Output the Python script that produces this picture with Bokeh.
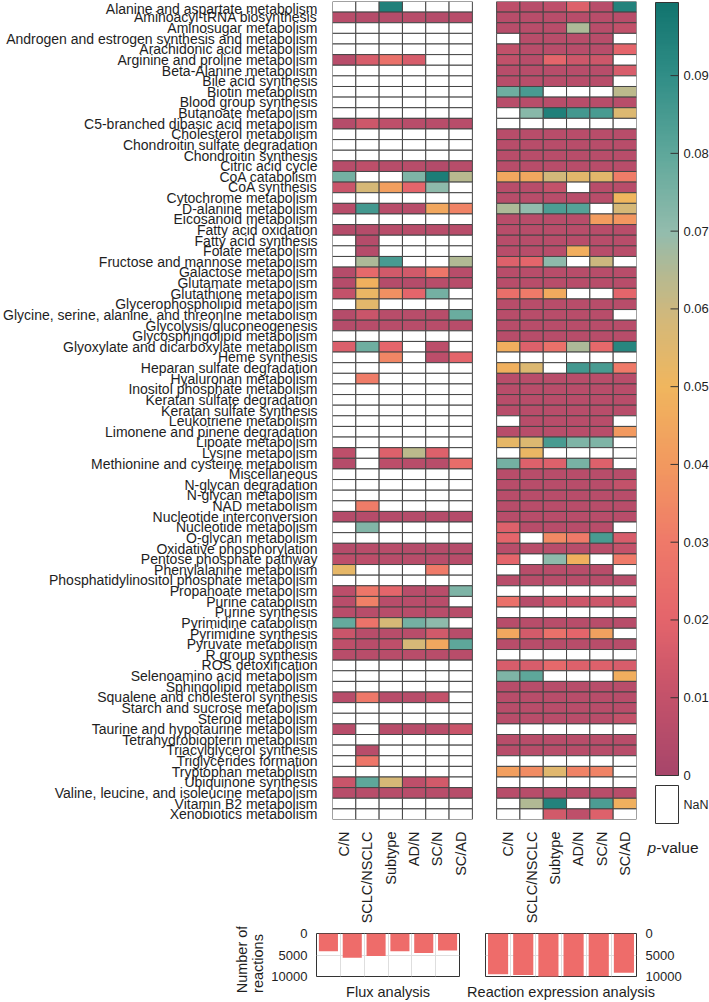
import math
import numpy as np
from bokeh.plotting import figure
from bokeh.models import (FactorRange, Range1d, FixedTicker, LinearColorMapper,
                          ColumnDataSource)
from bokeh.core.properties import value
from bokeh.layouts import row, column
from bokeh.embed import file_html
from bokeh.resources import INLINE

NA = float("nan")
FONT = "Liberation Sans"
TXT = "#1e1e1e"

pathways = [
    "Alanine and aspartate metabolism", "Aminoacyl-tRNA biosynthesis", "Aminosugar metabolism",
    "Androgen and estrogen synthesis and metabolism", "Arachidonic acid metabolism",
    "Arginine and proline metabolism", "Beta-Alanine metabolism", "Bile acid synthesis",
    "Biotin metabolism", "Blood group synthesis", "Butanoate metabolism",
    "C5-branched dibasic acid metabolism", "Cholesterol metabolism",
    "Chondroitin sulfate degradation", "Chondroitin synthesis", "Citric acid cycle",
    "CoA catabolism", "CoA synthesis", "Cytochrome metabolism", "D-alanine metabolism",
    "Eicosanoid metabolism", "Fatty acid oxidation", "Fatty acid synthesis",
    "Folate metabolism", "Fructose and mannose metabolism", "Galactose metabolism",
    "Glutamate metabolism", "Glutathione metabolism", "Glycerophospholipid metabolism",
    "Glycine, serine, alanine, and threonine metabolism", "Glycolysis/gluconeogenesis",
    "Glycosphingolipid metabolism", "Glyoxylate and dicarboxylate metabolism",
    "Heme synthesis", "Heparan sulfate degradation", "Hyaluronan metabolism",
    "Inositol phosphate metabolism", "Keratan sulfate degradation",
    "Keratan sulfate synthesis", "Leukotriene metabolism", "Limonene and pinene degradation",
    "Lipoate metabolism", "Lysine metabolism", "Methionine and cysteine metabolism",
    "Miscellaneous", "N-glycan degradation", "N-glycan metabolism", "NAD metabolism",
    "Nucleotide interconversion", "Nucleotide metabolism", "O-glycan metabolism",
    "Oxidative phosphorylation", "Pentose phosphate pathway", "Phenylalanine metabolism",
    "Phosphatidylinositol phosphate metabolism", "Propanoate metabolism",
    "Purine catabolism", "Purine synthesis", "Pyrimidine catabolism",
    "Pyrimidine synthesis", "Pyruvate metabolism", "R group synthesis",
    "ROS detoxification", "Selenoamino acid metabolism", "Sphingolipid metabolism",
    "Squalene and cholesterol synthesis", "Starch and sucrose metabolism",
    "Steroid metabolism", "Taurine and hypotaurine metabolism",
    "Tetrahydrobiopterin metabolism", "Triacylglycerol synthesis",
    "Triglycerides formation", "Tryptophan metabolism", "Ubiquinone synthesis",
    "Valine, leucine, and isoleucine metabolism", "Vitamin B2 metabolism",
    "Xenobiotics metabolism",
]

contrasts = ["C/N", "SCLC/NSCLC", "Subtype", "AD/N", "SC/N", "SC/AD"]

# ---- Flux analysis p-values (one list per contrast, rows follow `pathways`) ----
flux_cn = [
    NA, .006, NA, NA, NA, .006, NA, NA, NA, NA, NA,
    .005, NA, NA, NA, .006, .076, .012, NA, .006, NA, .005,
    NA, NA, NA, .005, .005, .010, NA, .005, .005, NA, .017,
    NA, NA, NA, NA, NA, NA, NA, NA, NA, .008, .005,
    NA, NA, NA, NA, .005, NA, NA, .005, .007, .053, NA,
    .007, .006, .006, .079, .012, .008, .006, NA, NA, NA, .006,
    NA, NA, .006, NA, NA, NA, NA, .012, .006, NA, NA,
]
flux_sclc = [
    NA, .005, NA, NA, NA, .016, NA, NA, NA, NA, NA,
    .013, NA, NA, NA, .008, NA, .058, NA, .086, NA, .005,
    .005, .005, .066, .022, .048, .052, .054, .012, .006, NA, .077,
    NA, NA, .031, NA, NA, NA, NA, NA, NA, NA, NA,
    NA, NA, NA, .031, .005, .073, NA, .006, .007, NA, NA,
    .028, .032, .006, .027, .006, .006, .006, NA, NA, NA, .029,
    NA, NA, NA, NA, .006, .028, NA, .080, .006, NA, NA,
]
flux_subtype = [
    .095, .005, NA, NA, NA, .026, NA, NA, NA, NA, NA,
    .008, NA, NA, NA, .006, NA, .042, NA, .006, NA, .006,
    NA, NA, .085, .014, .005, .037, NA, .006, .006, NA, .020,
    .034, NA, NA, NA, NA, NA, NA, NA, NA, .018, .007,
    NA, NA, NA, NA, .005, NA, NA, .006, .006, NA, NA,
    .020, .006, .006, .058, .006, .008, .006, NA, NA, NA, .006,
    NA, NA, .006, NA, NA, NA, NA, .058, .006, NA, NA,
]
flux_ad = [
    NA, .006, NA, NA, NA, .016, NA, NA, NA, NA, NA,
    .006, NA, NA, NA, .006, .074, .020, NA, .006, NA, .006,
    NA, NA, NA, .014, .005, .020, NA, .006, .006, NA, NA,
    NA, NA, NA, NA, NA, NA, NA, NA, NA, .063, .006,
    NA, NA, NA, NA, .005, NA, NA, .005, .006, NA, NA,
    .006, .006, .006, .076, .006, .058, .006, NA, NA, NA, .006,
    NA, NA, .006, NA, NA, NA, NA, .008, .006, NA, NA,
]
flux_sc = [
    NA, .005, NA, NA, NA, NA, NA, NA, NA, NA, NA,
    .006, NA, NA, NA, .004, .096, .071, NA, .045, NA, .006,
    NA, NA, NA, .028, .006, .076, NA, .006, .006, NA, .007,
    .007, NA, NA, NA, NA, NA, NA, NA, NA, .018, .006,
    NA, NA, NA, NA, .005, NA, NA, .005, .006, .030, NA,
    .006, .006, .006, .071, .014, .045, .006, NA, NA, NA, .010,
    NA, NA, .006, NA, NA, NA, NA, .014, .006, NA, NA,
]
flux_scad = [
    NA, .006, NA, NA, NA, NA, NA, NA, NA, NA, NA,
    .006, NA, NA, NA, .006, .064, NA, NA, .033, NA, .006,
    NA, NA, .065, .006, .006, NA, NA, .078, .006, NA, NA,
    .020, NA, NA, NA, NA, NA, NA, NA, NA, NA, .024,
    NA, NA, NA, NA, .005, NA, NA, .005, .006, NA, NA,
    .074, NA, .006, NA, .006, .080, .006, NA, NA, NA, NA,
    NA, NA, .012, NA, NA, NA, NA, NA, .006, NA, NA,
]

# ---- Reaction expression analysis p-values ----
expr_cn = [
    .008, .006, .006, NA, .009, .009, .006, .006, .077, .006, NA,
    NA, .006, .006, .006, .006, .045, .006, .006, .066, .006, .006,
    .006, .006, .018, .006, .006, .025, .006, .006, .006, .006, .047,
    NA, .048, .006, .006, .006, .006, NA, .006, .053, NA, .076,
    .006, .006, .006, .006, .006, .018, .020, .006, .020, NA, .006,
    NA, .026, NA, .006, .045, .006, NA, .016, .074, .006, .006,
    .006, .006, NA, .006, .006, NA, .042, NA, .006, NA, NA,
]
expr_sclc = [
    .006, .006, .006, .006, .006, .006, .006, .006, .085, .006, .072,
    NA, .006, .006, .006, .006, .045, .006, .006, .070, .006, .006,
    .006, .006, .020, .006, .006, .030, .006, .006, .006, .006, .018,
    NA, .056, .006, .006, .006, .006, .006, .006, .056, .052, .018,
    .006, .006, .006, .006, .006, .006, NA, .006, NA, .006, .006,
    NA, .006, NA, .006, .015, .006, NA, .016, .080, .006, .006,
    .006, .006, NA, .006, .006, NA, .036, NA, .006, .065, NA,
]
expr_subtype = [
    .008, .006, .006, .006, .006, .020, .006, .006, NA, .006, .095,
    NA, .006, .006, .006, .006, .059, .010, .006, .084, .006, .006,
    .006, .006, .071, .006, .006, .046, .006, .006, .006, .006, .026,
    NA, NA, .006, .006, .006, .006, .006, .006, .085, NA, .018,
    .006, .006, .006, .006, .006, .006, .035, .006, .071, .006, .006,
    NA, .013, NA, .006, .026, .006, NA, .022, NA, .006, .006,
    .006, .006, NA, .006, .006, NA, .055, NA, .006, .094, .014,
]
expr_ad = [
    .018, .006, .066, .006, .006, .013, .006, .006, NA, .006, .086,
    NA, .006, .006, .006, .006, .054, NA, .006, .082, .006, .006,
    .006, .047, NA, .006, .006, NA, .006, .006, .006, .006, .066,
    NA, .086, .006, .006, .006, .006, .006, .006, .074, NA, .075,
    .006, .006, .006, .006, .006, .006, .030, .006, .048, .006, .006,
    NA, .013, NA, .006, .020, .006, NA, .018, NA, .006, .006,
    .006, .006, NA, .006, .006, NA, .033, NA, .006, NA, .008,
]
expr_sc = [
    .006, .006, .006, .006, .006, .013, .006, .006, NA, .006, .085,
    NA, .006, .006, .006, .006, .054, .006, .006, NA, .041, .006,
    .006, .006, .060, .006, .006, NA, .006, .006, .006, .006, .022,
    NA, .085, .006, .006, .006, .006, .006, .006, .074, NA, .018,
    .006, .006, .006, .006, .006, .006, .085, .006, NA, .006, .006,
    NA, .013, NA, .006, .043, .006, NA, .018, NA, .006, .006,
    .006, .006, NA, .006, .006, NA, .033, NA, .006, .084, .018,
]
expr_scad = [
    .094, .006, .009, NA, .020, NA, .016, NA, .063, .006, .056,
    NA, .006, .006, .006, .006, .031, .006, .050, .058, .039, .006,
    .006, .006, NA, .006, .006, .020, .006, NA, .006, .006, .093,
    NA, .030, .006, .006, .006, .006, NA, .040, NA, NA, NA,
    .006, .010, .006, .006, .006, NA, .016, .010, .030, NA, .006,
    NA, .013, NA, .006, NA, .006, NA, .016, .047, .006, .006,
    .006, .010, NA, .006, .006, NA, NA, NA, .006, .048, NA,
]

# number of reactions per contrast (bar panels)
flux_reactions = [4150, 5630, 5260, 4150, 4520, 3930]
expr_reactions = [9480, 9630, 10400, 9960, 9900, 9120]

cbar_ticks = [0, 0.01, 0.02, 0.03, 0.04, 0.05, 0.06, 0.07, 0.08, 0.09]
cbar_labels = ["0", "0.01", "0.02", "0.03", "0.04", "0.05", "0.06", "0.07", "0.08", "0.09"]
P_MAX = 0.0994

# ---- colour scale: rose -> salmon -> amber -> teal ----
anchors = [(0.0, "#a8466a"), (0.01, "#c4526a"), (0.02, "#e4656b"), (0.03, "#ef7a69"),
           (0.04, "#f2995f"), (0.05, "#f0b65e"), (0.058, "#d6b877"), (0.065, "#b2b993"),
           (0.07, "#93bcad"), (0.08, "#5fa89b"), (0.09, "#318e87"), (P_MAX, "#12756f")]


def hex_rgb(h):
    return np.array([int(h[i:i + 2], 16) for i in (1, 3, 5)], dtype=float)


stops = np.array([a[0] for a in anchors])
cols = np.array([hex_rgb(a[1]) for a in anchors])
levels = np.linspace(0, P_MAX, 256)
palette = []
for v in levels:
    rgb = [np.interp(v, stops, cols[:, k]) for k in range(3)]
    palette.append("#%02x%02x%02x" % tuple(int(round(c)) for c in rgb))

mapper = LinearColorMapper(palette=palette, low=0, high=P_MAX, nan_color="white")


def plain_figure(**kw):
    return figure(output_backend="svg", toolbar_location=None,
                  background_fill_color="white", border_fill_color="white", **kw)


# ---- heatmap cells ----
GAP = 1.04
x_left = [i + 0.5 for i in range(6)]
x_right = [6 + GAP + i + 0.5 for i in range(6)]
flux_cols = [flux_cn, flux_sclc, flux_subtype, flux_ad, flux_sc, flux_scad]
expr_cols = [expr_cn, expr_sclc, expr_subtype, expr_ad, expr_sc, expr_scad]

xs, ys, ps = [], [], []
for xpos, panel in ((x_left, flux_cols), (x_right, expr_cols)):
    for xc, vals in zip(xpos, panel):
        for name, pv in zip(pathways, vals):
            xs.append(xc)
            ys.append(name)
            ps.append(pv)
cells = ColumnDataSource(dict(x=xs, y=ys, p=ps))

heat = plain_figure(width=645, height=926, x_range=Range1d(0, 12 + GAP),
                    y_range=FactorRange(factors=pathways[::-1]),
                    min_border_left=309, min_border_right=9, min_border_top=1,
                    min_border_bottom=94, outline_line_color=None)
heat.rect(x="x", y="y", width=1, height=1, source=cells,
          fill_color={"field": "p", "transform": mapper},
          line_color="#454545", line_width=1)
heat.grid.visible = False

ya = heat.yaxis[0]
ya.axis_line_color = None
ya.major_tick_line_color = None
ya.major_label_standoff = 9
ya.major_label_text_font = FONT
ya.major_label_text_font_size = "14px"
ya.major_label_text_color = TXT

xa = heat.xaxis[0]
xa.ticker = FixedTicker(ticks=x_left + x_right)
xa.major_label_overrides = {x: lab for x, lab in zip(x_left + x_right, contrasts + contrasts)}
xa.major_label_orientation = math.pi / 2
xa.axis_line_color = None
xa.major_tick_line_color = None
xa.minor_tick_line_color = None
xa.major_label_standoff = 6
xa.major_label_text_font = FONT
xa.major_label_text_font_size = "14.5px"
xa.major_label_text_color = TXT

# ---- colour scale panel: gradient bar, ticks, NaN swatch, title ----
# bar occupies x 0..1 and y 0..P_MAX; helpers convert panel pixels to these units
BAR_L, BAR_W, PX_TOP, PX_ZERO = 10, 23, 2, 775
PX_PER_P = (PX_ZERO - PX_TOP) / P_MAX


def px_x(px):
    return (px - BAR_L) / BAR_W


def px_y(px):
    return (PX_ZERO - px) / PX_PER_P


scale = plain_figure(width=64, height=926, x_range=Range1d(px_x(0), px_x(64)),
                     y_range=Range1d(px_y(926), px_y(0)),
                     x_axis_location=None, y_axis_location=None,
                     min_border_left=0, min_border_right=0, min_border_top=0,
                     min_border_bottom=0, outline_line_color=None)
scale.grid.visible = False
grad = np.linspace(0, P_MAX, 400).reshape(-1, 1)
scale.image(image=[grad], x=0, y=0, dw=1, dh=P_MAX, color_mapper=mapper)
scale.quad(left=[0], right=[1], bottom=[0], top=[P_MAX], fill_color=None,
           line_color="#333333", line_width=1)
n_t = len(cbar_ticks)
scale.segment(x0=[1 - 8 / BAR_W] * n_t, x1=[1] * n_t, y0=cbar_ticks, y1=cbar_ticks,
              line_color="#333333", line_width=1)
scale.text(x=[px_x(38)] * n_t, y=cbar_ticks, text=cbar_labels, text_font=value(FONT),
           text_font_size="13px", text_color=TXT, text_baseline="middle",
           text_align="left")
scale.quad(left=[0], right=[1], top=[px_y(785)], bottom=[px_y(823)],
           fill_color="white", line_color="#333333", line_width=1)
scale.text(x=[px_x(38)], y=[px_y(804.5)], text=["NaN"], text_font=value(FONT),
           text_font_size="12.5px", text_color=TXT, text_baseline="middle",
           text_align="left")
scale.text(x=[px_x(2)], y=[px_y(847)], text=["p"], text_font=value(FONT),
           text_font_size="15.5px", text_font_style="italic", text_color=TXT,
           text_baseline="middle")
scale.text(x=[px_x(10.8)], y=[px_y(847)], text=["-value"], text_font=value(FONT),
           text_font_size="15.5px", text_color=TXT, text_baseline="middle")


# ---- bar panels: number of reactions ----
def bar_panel(values, width, left, right, axis_side, xlabel):
    p = plain_figure(width=width, height=76, x_range=Range1d(0, 6),
                     y_range=Range1d(10000, 0), y_axis_location=axis_side,
                     min_border_left=left, min_border_right=right, min_border_top=7,
                     min_border_bottom=25, outline_line_color="#333333")
    p.vbar(x=[i + 0.5 for i in range(6)], top=values, bottom=0, width=0.8,
           fill_color="#ee6c6a", line_color=None)
    p.xgrid.ticker = FixedTicker(ticks=[1, 2, 3, 4, 5])
    p.ygrid.ticker = FixedTicker(ticks=[5000])
    p.grid.grid_line_color = "#dedede"
    xa_ = p.xaxis[0]
    xa_.ticker = FixedTicker(ticks=[])
    xa_.axis_line_color = None
    xa_.major_tick_line_color = None
    xa_.minor_tick_line_color = None
    xa_.axis_label = xlabel
    xa_.axis_label_standoff = 7
    xa_.axis_label_text_font = FONT
    xa_.axis_label_text_font_size = "14.5px"
    xa_.axis_label_text_font_style = "normal"
    xa_.axis_label_text_color = TXT
    ya_ = p.yaxis[0]
    ya_.ticker = FixedTicker(ticks=[0, 5000, 10000])
    ya_.axis_line_color = None
    ya_.major_tick_line_color = None
    ya_.minor_tick_line_color = None
    ya_.major_label_standoff = 3
    ya_.major_label_text_font = FONT
    ya_.major_label_text_font_size = "13px"
    ya_.major_label_text_color = TXT
    return p


# y-axis title for the bar row, as two rotated lines (panel in page pixels)
ytitle = plain_figure(width=268, height=76, x_range=Range1d(0, 268),
                      y_range=Range1d(1002, 926), x_axis_location=None,
                      y_axis_location=None, min_border_left=0, min_border_right=0,
                      min_border_top=0, min_border_bottom=0, outline_line_color=None)
ytitle.grid.visible = False
ytitle.text(x=[241, 257.5], y=[959, 963], text=["Number of", "reactions"], angle=math.pi / 2,
            text_font=value(FONT), text_font_size="14.5px", text_color=TXT,
            text_align="center", text_baseline="middle")

bar_l = bar_panel(flux_reactions, 192, 41, 1, "left", "Flux analysis")
bar_r = bar_panel(expr_reactions, 249, 25, 73, "right", "Reaction expression analysis")

layout = column(row(heat, column(scale)), row(column(ytitle), bar_l, bar_r))

with open("out.html", "w") as f:
    f.write(file_html(layout, INLINE, "Pathway p-values"))
